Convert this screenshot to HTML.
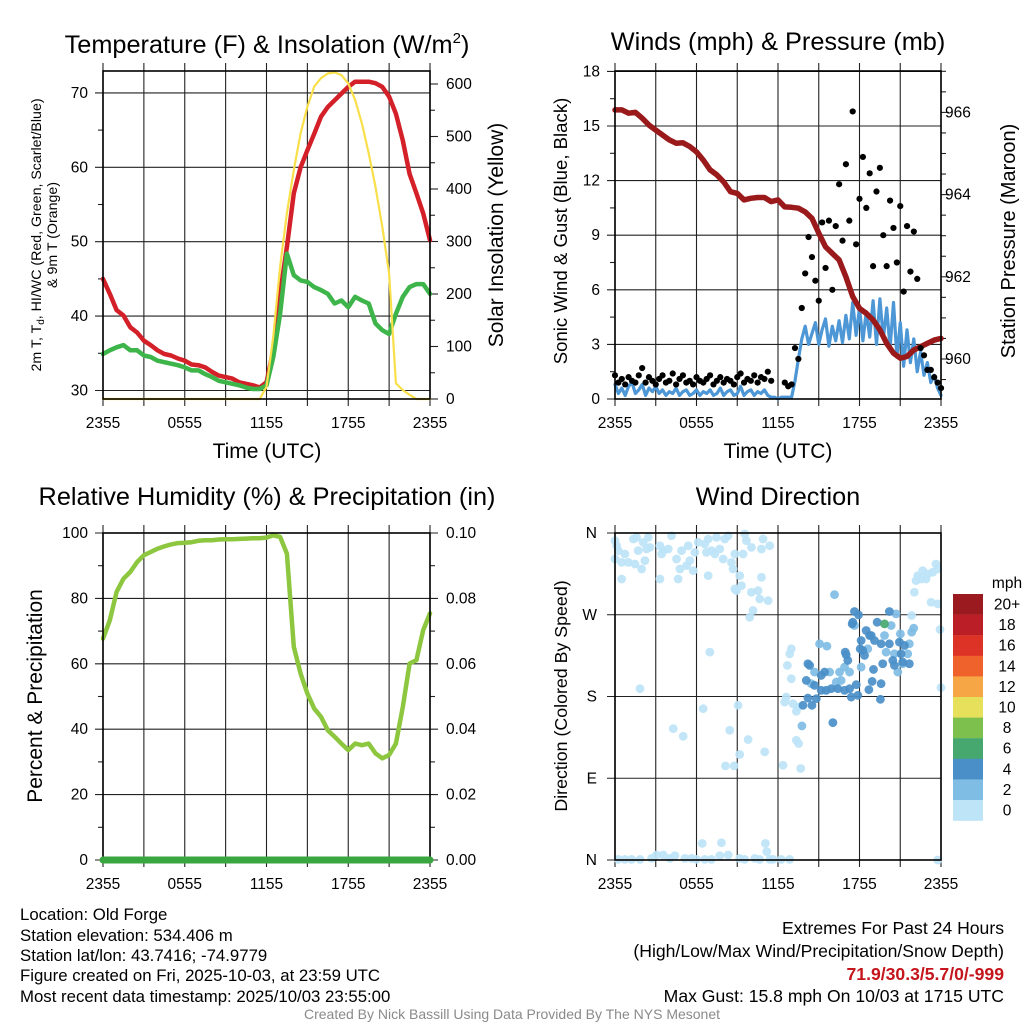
<!DOCTYPE html>
<html><head><meta charset="utf-8">
<style>
html,body{margin:0;padding:0;background:#fff;}
svg{display:block;font-family:"Liberation Sans",Arial,sans-serif;}
</style></head>
<body>
<svg id="c" width="1024" height="1024" viewBox="0 0 1024 1024" xmlns="http://www.w3.org/2000/svg">
<rect width="1024" height="1024" fill="#fff"/>
<text x="267" y="53" font-size="25.3" text-anchor="middle">Temperature (F) &amp; Insolation (W/m<tspan font-size="15" dy="-10">2</tspan><tspan dy="10">)</tspan></text>
<text x="778" y="50" font-size="25.3" text-anchor="middle">Winds (mph) &amp; Pressure (mb)</text>
<text x="267" y="505" font-size="25.3" text-anchor="middle">Relative Humidity (%) &amp; Precipitation (in)</text>
<text x="778" y="505" font-size="25.3" text-anchor="middle">Wind Direction</text>

<text x="267" y="458" font-size="21" text-anchor="middle">Time (UTC)</text>
<text x="778" y="458" font-size="21" text-anchor="middle">Time (UTC)</text>

<text transform="translate(41,235) rotate(-90)" font-size="14.2" text-anchor="middle">2m T, T<tspan font-size="10" dy="3">d</tspan><tspan dy="-3">, HI/WC (Red, Green, Scarlet/Blue)</tspan></text>
<text transform="translate(57,235) rotate(-90)" font-size="14.2" text-anchor="middle">&amp; 9m T (Orange)</text>
<text transform="translate(503,235) rotate(-90)" font-size="21" text-anchor="middle">Solar Insolation (Yellow)</text>
<text transform="translate(567,231) rotate(-90)" font-size="18.6" text-anchor="middle">Sonic Wind &amp; Gust (Blue, Black)</text>
<text transform="translate(1015,241) rotate(-90)" font-size="20" text-anchor="middle">Station Pressure (Maroon)</text>
<text transform="translate(42,696) rotate(-90)" font-size="21" text-anchor="middle">Percent &amp; Precipitation</text>
<text transform="translate(567,696) rotate(-90)" font-size="17.8" text-anchor="middle">Direction (Colored By Speed)</text>

<g font-size="16.8">
<text x="20" y="920">Location: Old Forge</text>
<text x="20" y="941">Station elevation: 534.406 m</text>
<text x="20" y="961">Station lat/lon: 43.7416; -74.9779</text>
<text x="20" y="981">Figure created on Fri, 2025-10-03, at 23:59 UTC</text>
<text x="20" y="1002">Most recent data timestamp: 2025/10/03 23:55:00</text>
</g>
<g font-size="17.6" text-anchor="end">
<text x="1004" y="934">Extremes For Past 24 Hours</text>
<text x="1004" y="957">(High/Low/Max Wind/Precipitation/Snow Depth)</text>
<text x="1004" y="980" fill="#c4161c" font-weight="bold">71.9/30.3/5.7/0/-999</text>
<text x="1004" y="1002">Max Gust: 15.8 mph On 10/03 at 1715 UTC</text>
</g>
<text x="512" y="1019" font-size="14" fill="#8a8a8a" text-anchor="middle">Created By Nick Bassill Using Data Provided By The NYS Mesonet</text>
</svg>
<script>
// ---- data ----
const halfHourTimes = [0,0.5,1,1.5,2,2.5,3,3.5,4,4.5,5,5.5,6,6.5,7,7.5,8,8.5,9,9.5,10,10.5,11,11.5,12,12.5,13,13.5,14,14.5,15,15.5,16,16.5,17,17.5,18,18.5,19,19.5,20,20.5,21,21.5,22,22.5,23,23.5,24];
const xTickLabels = ["2355","0555","1155","1755","2355"];
const airTemp = [45.0,43.0,40.8,40.1,38.5,37.8,36.7,36.1,35.4,34.9,34.7,34.3,34.0,33.5,33.4,33.1,32.5,32.0,31.8,31.6,31.1,30.9,30.7,30.4,31.1,35.4,43.0,49.3,56.5,60.0,62.3,64.5,66.8,68.1,69.0,69.9,70.8,71.5,71.5,71.5,71.3,70.8,69.5,67.2,63.6,59.1,56.5,53.8,50.2];
const dewPoint = [34.9,35.4,35.8,36.1,35.4,35.4,34.7,34.5,34.0,33.8,33.6,33.4,33.1,32.7,32.7,32.2,31.8,31.3,31.1,30.9,30.7,30.4,30.2,30.2,30.7,34.5,40.3,48.4,45.5,44.8,44.6,43.9,43.5,43.0,41.7,42.1,41.2,42.6,42.1,41.7,39.0,38.1,37.6,40.3,42.6,43.9,44.3,44.3,43.0];
const solar = [0,0,0,0,0,0,0,0,0,0,0,0,0,0,0,0,0,0,0,0,0,0,0,0,23,119,252,354,436,506,557,595,611,620,622,617,601,570,525,468,404,328,239,30,17,8,0,0,0];
const tempTicks = [30,40,50,60,70];
const solarTicks = [0,100,200,300,400,500,600];
const pressure = [966.06,966.06,965.98,966.0,965.86,965.69,965.57,965.45,965.33,965.25,965.26,965.17,965.04,964.84,964.6,964.48,964.31,964.07,964.03,963.87,963.91,963.93,963.93,963.83,963.87,963.7,963.69,963.67,963.58,963.42,963.06,962.73,962.57,962.41,962.0,961.52,961.23,961.11,960.95,960.71,960.38,960.14,960.02,960.06,960.22,960.3,960.38,960.46,960.5];
const sonicWind = [0.8,0.3,0.6,0.2,0.7,0.9,0.3,0.5,0.8,0.2,0.6,0.4,0.7,0.3,0.5,0.2,0.4,0.3,0.6,0.2,0.4,0.5,0.2,0.3,0.5,0.2,0.4,0.3,0.5,0.2,0.3,0.6,0.2,0.4,0.5,0.2,0.3,0.7,0.2,0.4,0.5,0.2,0.4,0.3,0.5,0.2,0.1,0.1,0.0,0.1,0.1,0.1,0.1,
1.0,2.2,3.3,4.0,3.0,3.6,4.2,3.0,3.8,4.4,2.9,4.0,3.2,4.3,3.1,4.6,3.3,5.3,3.5,5.0,3.2,4.8,3.4,5.4,3.0,5.5,3.3,5.0,2.8,5.3,2.3,4.2,1.8,3.8,2.0,3.3,1.5,2.6,1.3,2.0,0.9,1.3,0.6,0.2];
const windGust = [1.3,0.9,1.1,0.8,1.2,1.0,0.9,1.3,1.7,0.9,1.2,1.0,0.8,1.1,1.3,0.9,1.0,1.4,0.8,1.1,1.3,0.9,1.0,0.8,1.2,1.0,0.9,1.1,1.3,0.8,1.0,1.2,0.9,1.1,1.0,0.8,1.2,1.4,0.9,1.1,1.0,1.3,0.9,1.2,1.1,1.5,1.0,null,null,null,0.9,0.7,0.8,
2.8,2.2,5.0,6.9,8.9,7.8,6.5,5.4,9.7,7.2,9.8,6.0,9.5,11.8,8.7,12.9,9.8,15.8,8.5,11.0,13.3,10.5,12.4,7.3,11.4,12.7,9.0,7.3,10.9,9.4,7.5,10.6,5.9,9.5,7.0,9.2,6.6,2.8,2.4,1.6,1.6,1.2,0.9,0.6];
const windTicks = [0,3,6,9,12,15,18];
const pressureTicks = [960,962,964,966];
const humidity = [67.7,73.3,82,86,88.1,91.1,93.2,94.2,95.2,95.9,96.5,96.9,97,97.2,97.6,97.8,97.8,98,98.1,98.1,98.2,98.3,98.4,98.4,98.6,99.3,98.8,93.7,65.2,57,50.9,46.3,43.8,39.7,37.7,35.6,33.6,35.6,35.1,35.6,32.6,31.1,32.1,35.6,46.8,60.1,61.1,70.3,75.4];
const precipTimes = [0,2,4,6,8,10,12,14,16,18,20,22,24];
const precip = [0,0,0,0,0,0,0,0,0,0,0,0,0];
const rhTicks = [0,20,40,60,80,100];
const precipTicks = ["0.00","0.02","0.04","0.06","0.08","0.10"];
const dirTickLabels = ["N","E","S","W","N"];
// wind direction scatter: time (h), direction (deg), speed (mph)
const calmTimes = [0,0.12,0.24,0,0.49,0.73,0.98,1.35,1.59,1.47,1.96,2.2,1.71,2.08,2.45,2.57,2.33,0.49,3.31,3.55,3.92,4.16,3.43,4.53,4.9,5.39,5.51,4.78,4.65,3.31,5.88,6.12,6.61,6.86,6.73,7.1,7.35,7.47,7.71,8.08,8.33,7.96,8.82,8.57,8.69,9.43,9.55,9.67,10.04,10.78,10.9,11.39,6.86,5.76,5.27,9.18,9.31,8.82,8.94,10.04,10.53,10.65,11.27,10.78,10.16,9.92,6.98,1.84,6.49,9.06,4.29,5.02,8.45,9.8,11.02,9.18,8.13,8.77,12.37,13.67,13.35,13.52,12.61,12.49,13.1,12.98,12.69,12.86,12.98,13.35,13.47,22.29,22.65,23.02,23.39,23.76,23.63,22.53,22.16,22.9,23.27,23.76,22.04,23.93,21.84,24,23.76,6.42,7.84,11.07,11.17,0.24,0.73,1.22,1.84,2.69,3.06,3.55,4.04,4.41,5.14,5.63,6,6.61,7.1,7.71,8.33,9.18,9.55,10.29,10.65,11.39,11.63,12.24,12.86];
const calmDirs = [351.6,346,340.6,331.4,327.7,336.9,327.7,353.4,355.2,325.9,320.4,329.6,340.6,349.7,355.2,344.2,342.4,309.4,346,340.6,342.4,357,336.9,331.4,340.6,346,329.6,320.4,309.4,309.4,338.7,349.7,347.9,353.4,338.7,340.6,336.9,355.2,342.4,353.4,357,331.4,336.9,327.7,320.4,336.9,359,351.6,344.2,342.4,353.4,346,313.1,318.6,324.1,313.1,302.1,298.5,296.6,294.8,296.6,287.5,285.6,311.3,274.7,267.3,228.9,188.6,166.6,170.3,144.6,136.2,142.8,132.6,119,116.1,103.6,103.6,104.3,100.7,131.8,128.2,179.4,173.9,172.1,199.6,214.2,227,232.5,163.7,168.5,313.1,318.6,314.9,316.8,320.4,325.9,309.4,307.6,309.4,283.8,282,294.8,253.8,269.2,189.7,0,18.3,19,18.3,9.2,0.7,0.7,0.7,0.7,1.8,5.5,5.5,1.8,4.8,1.8,1.8,0.7,0.7,0.7,4.8,5.5,1.8,0.7,1.8,0.7,0.7,0.7,0.7,0.7];
const calmSpeed = 1;
const lightTimes = [16.16,15.06,15.6,14.69,15.8,16.53,16.29,16.65,17.63,18.61,16.9,17.27,18.12,19.96,20.57,21.55,21.18,20.82,21.01,21.84,21.67,20.33,21.99,20.69,19.84,13.76,14.45];
const lightDirs = [292.2,238,235.5,206.9,206.9,206.9,195.9,197.7,258.2,232.5,212.4,206.9,212.4,228.9,227,227,216.1,206.9,249,250.8,238,258.2,255.2,271,247.2,147.6,194.1];
const lightSpeed = 3;
const moderateTimes = [17.63,17.93,17.46,17.51,18.49,18.86,19.3,18.74,20.2,19.1,19.59,20.2,20.94,21.31,18.12,18.24,18.37,16.95,17.02,17.14,18.05,14.2,14.33,15.43,15.18,14.08,14.69,15.18,15.55,15.92,16.41,16.9,17.27,17.39,17.88,17.76,18.69,18.93,19.59,19.03,19.71,20.45,20.57,21.18,21.67,21.06,19.54,16.04,14.2,14.82,13.84,14.5];
const moderateDirs = [273.6,269.9,260,261.8,252.7,247.2,261.8,247.2,273.6,241.7,238,238,239.9,236.2,241.7,230.7,225.2,228.9,225.9,219.7,232.5,216.1,214.2,206.9,203.2,197.7,192.3,186.8,186.8,188.6,188.6,186.8,188.6,179.4,181.3,193,187.5,196.6,194.1,209.8,216.1,219.7,214.2,217.9,216.1,227,176.9,151.2,178.3,177.6,170.3,170.3];
const moderateSpeed = 5;
const breezyTimes = [19.84];
const breezyDirs = [260];
const breezySpeed = 6.5;
const speedBinLabels = ["20+","18","16","14","12","10","8","6","4","2","0"];
const speedBinColors = ["#9b1a1f","#bb1e26","#dd3327","#f0622b","#f7a646","#e7e05a","#7dc04d","#46a86f","#4a8fc8","#7fbde4","#bde4f7"];
</script>
<script>
const svg = document.getElementById('c');
const NS = 'http://www.w3.org/2000/svg';
function mk(tag, attrs, parent) {
  const e = document.createElementNS(NS, tag);
  for (const k in attrs) e.setAttribute(k, attrs[k]);
  (parent || svg).appendChild(e);
  return e;
}
function panelFrame(p, name) {
  const g = mk('g', {});
  
  
  for (let h = 0; h <= 24; h += 3) {
    const x = p.tx(h);
    const l = mk('line', {x1: x, x2: x, y1: p.top - 8, y2: p.bot + 7, stroke: '#222', 'stroke-width': 1.1}, g);
    
    
  }
  xTickLabels.forEach((lab, i) => {
    const t = mk('text', {x: p.tx(i * 6), y: p.bot + 29, 'font-size': 15.5, 'text-anchor': 'middle'}, g);
    t.textContent = lab;
    
    
  });
  return g;
}
function line(arrX, arrY, fx, fy, style, name) {
  let d = '';
  let pen = false;
  arrY.forEach((v, i) => {
    if (v === null) { pen = false; return; }
    d += (pen ? 'L' : 'M') + fx(arrX[i]).toFixed(1) + ',' + fy(v).toFixed(1);
    pen = true;
  });
  const p = mk('path', Object.assign({d: d, fill: 'none', 'stroke-linejoin': 'round', 'stroke-linecap': 'round'}, style));
  
  
  return p;
}
function hLine(x1, x2, y, name, g) {
  const l = mk('line', {x1: x1, x2: x2, y1: y, y2: y, stroke: '#222', 'stroke-width': 1.1}, g);
  
  
}
function border(p, g) {
  const r = mk('rect', {x: p.x0, y: p.top, width: p.x1 - p.x0, height: p.bot - p.top, fill: 'none', stroke: '#000', 'stroke-width': 1.6}, g);
  
  
}
function label(x, y, txt, anchor, name, g, size) {
  const t = mk('text', {x: x, y: y, 'font-size': size || 15.5, 'text-anchor': anchor}, g);
  t.textContent = txt;
  
  
}
function quarterTimes(n) { const a = []; for (let j = 0; j < n; j++) a.push(j * 0.25); return a; }

// ---------- Panel 1 ----------
const P1 = {x0: 103, x1: 430, top: 71, bot: 399};
P1.tx = h => P1.x0 + h / 24 * (P1.x1 - P1.x0);
const tY = t => 390.5 - (t - 30) * 7.44;
const sY = w => 399 - w * 0.525;
{
  const g = panelFrame(P1, 'temperature');
  tempTicks.forEach(t => {
    hLine(P1.x0 - 8, P1.x1, tY(t), 'temp-gridline', g);
    label(P1.x0 - 15, tY(t) + 5, String(t), 'end', 'temp-tick-label', g);
  });
  [35, 45, 55, 65].forEach(t => hLine(P1.x0 - 5, P1.x0, tY(t), 'temp-minor-tick', g));
  solarTicks.forEach(w => {
    hLine(P1.x1, P1.x1 + 8, sY(w), 'solar-tick', g);
    label(P1.x1 + 16, sY(w) + 5, String(w), 'start', 'solar-tick-label', g);
  });
  [50, 150, 250, 350, 450, 550].forEach(w => hLine(P1.x1, P1.x1 + 5, sY(w), 'solar-minor-tick', g));
  line(halfHourTimes, airTemp, P1.tx, tY, {stroke: '#d42028', 'stroke-width': 4.5}, 'air-temperature-line');
  line(halfHourTimes, dewPoint, P1.tx, tY, {stroke: '#3db54a', 'stroke-width': 4.5}, 'dew-point-line');
  line(halfHourTimes, solar, P1.tx, sY, {stroke: '#f9df4a', 'stroke-width': 2.2}, 'solar-insolation-line');
  border(P1, g);
  svg.appendChild(g.lastChild);
}

// ---------- Panel 2 ----------
const P2 = {x0: 615, x1: 941, top: 71, bot: 399};
P2.tx = h => P2.x0 + h / 24 * (P2.x1 - P2.x0);
const wY = v => 399 - v * 18.2;
const pY = p => 359 - (p - 960) * 41.1;
{
  const g = panelFrame(P2, 'winds');
  windTicks.forEach(v => {
    hLine(P2.x0 - 8, P2.x1, wY(v), 'wind-gridline', g);
    label(P2.x0 - 15, wY(v) + 5, String(v), 'end', 'wind-tick-label', g);
  });
  [1.5, 4.5, 7.5, 10.5, 13.5, 16.5].forEach(v => hLine(P2.x0 - 5, P2.x0, wY(v), 'wind-minor-tick', g));
  pressureTicks.forEach(p => {
    hLine(P2.x1, P2.x1 + 8, pY(p), 'pressure-tick', g);
    label(P2.x1 + 4, pY(p) + 5, String(p), 'start', 'pressure-tick-label', g);
  });
  [959.5, 960.5, 961, 961.5, 962.5, 963, 963.5, 964.5, 965, 965.5, 966.5, 967].forEach(p => hLine(P2.x1, P2.x1 + 5, pY(p), 'pressure-minor-tick', g));
  const qt = quarterTimes(97);
  line(qt, sonicWind, P2.tx, wY, {stroke: '#4d97d6', 'stroke-width': 3.2}, 'sonic-wind-line');
  line(halfHourTimes, pressure, P2.tx, pY, {stroke: '#9a1a1c', 'stroke-width': 5.5}, 'pressure-line');
  windGust.forEach((v, i) => {
    if (v === null) return;
    const c = mk('circle', {cx: P2.tx(qt[i]), cy: wY(v), r: 3.1, fill: '#000'});
    
    
  });
  border(P2, g);
  svg.appendChild(g.lastChild);
}

// ---------- Panel 3 ----------
const P3 = {x0: 103, x1: 430, top: 533, bot: 860};
P3.tx = h => P3.x0 + h / 24 * (P3.x1 - P3.x0);
const rY = r => 860 - r * 3.27;
const prY = p => 860 - p * 3270;
{
  const g = panelFrame(P3, 'humidity');
  rhTicks.forEach((r, i) => {
    hLine(P3.x0 - 8, P3.x1 + 8, rY(r), 'rh-gridline', g);
    label(P3.x0 - 15, rY(r) + 5, String(r), 'end', 'rh-tick-label', g);
    label(P3.x1 + 16, rY(r) + 5, precipTicks[i], 'start', 'precip-tick-label', g);
  });
  [10, 30, 50, 70, 90].forEach(r => { hLine(P3.x0 - 5, P3.x0, rY(r), 'rh-minor-tick', g); hLine(P3.x1, P3.x1 + 5, rY(r), 'precip-minor-tick', g); });
  line(halfHourTimes, humidity, P3.tx, rY, {stroke: '#8dc63f', 'stroke-width': 4.5}, 'relative-humidity-line');
  border(P3, g);
  svg.appendChild(g.lastChild);
  line(precipTimes, precip, P3.tx, prY, {stroke: '#3aa63f', 'stroke-width': 7}, 'precipitation-line');
}

// ---------- Panel 4 ----------
const P4 = {x0: 615, x1: 941, top: 533, bot: 860};
P4.tx = h => P4.x0 + h / 24 * (P4.x1 - P4.x0);
const dY = d => 860 - d * 0.9083;
{
  const g = panelFrame(P4, 'wind-direction');
  dirTickLabels.forEach((lab, i) => {
    hLine(P4.x0 - 8, P4.x1, dY(i * 90), 'direction-gridline', g);
    label(P4.x0 - 18, dY(i * 90) + 5, lab, 'end', 'direction-tick-label', g);
  });
  function colorFor(s) {
    const bin = Math.min(10, Math.floor(s / 2));
    return speedBinColors[10 - bin];
  }
  const groups = [[calmTimes, calmDirs, calmSpeed], [lightTimes, lightDirs, lightSpeed], [moderateTimes, moderateDirs, moderateSpeed], [breezyTimes, breezyDirs, breezySpeed]];
  groups.forEach(gr => {
    gr[0].forEach((h, i) => {
      const c = mk('circle', {cx: P4.tx(h), cy: dY(gr[1][i]), r: 4.4, fill: colorFor(gr[2]), 'fill-opacity': 0.92});
      
      
    });
  });
  border(P4, g);
  svg.appendChild(g.lastChild);
  const cb = mk('g', {});
  
  
  label(1007, 588, 'mph', 'middle', 'colorbar-unit-label', cb);
  speedBinLabels.forEach((lab, i) => {
    const r = mk('rect', {x: 953, y: 594 + i * 20.6, width: 30, height: 20.8, fill: speedBinColors[i]}, cb);
    
    
    label(1007, 594 + i * 20.6 + 15.5, lab, 'middle', 'colorbar-label', cb);
  });
}
</script>
</body></html>
